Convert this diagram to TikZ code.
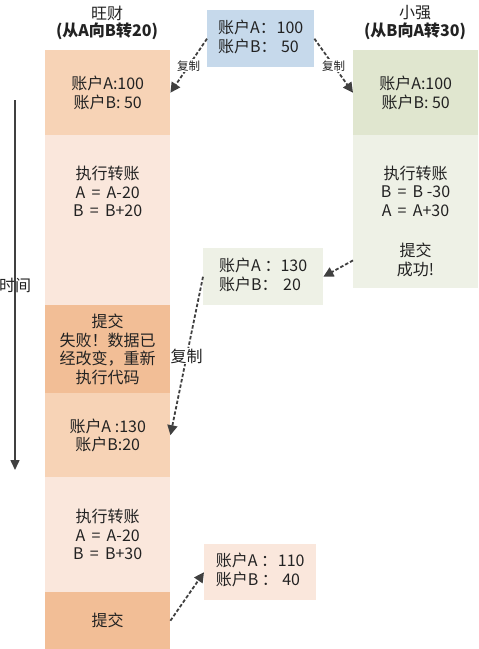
\documentclass[tikz,border=0pt]{standalone}
\usepackage{fontspec}
\setmainfont{Noto Sans CJK SC}
\usetikzlibrary{arrows.meta}
\definecolor{peach}{HTML}{F7D3B6}
\definecolor{peachlight}{HTML}{FAE7DC}
\definecolor{peachdark}{HTML}{F2BE96}
\definecolor{sage}{HTML}{E0E6CF}
\definecolor{sagelight}{HTML}{EEF1E6}
\definecolor{skyblue}{HTML}{C6D9EB}
\definecolor{arrowgray}{HTML}{404040}
\definecolor{textgray}{HTML}{222222}
\newcommand{\boxfont}{\fontsize{16}{18.5}\selectfont}
\newcommand{\smallfont}{\fontsize{11.5}{13}\selectfont}
\newcommand{\eq}{\,=\,}
\begin{document}
\begin{tikzpicture}[x=1pt,y=-1pt,
    box/.style={anchor=north west, inner sep=0pt, align=center, text=textgray, font=\boxfont},
    txt/.style={align=center, text=textgray, font=\boxfont},
    copyline/.style={draw=arrowgray, line width=1.8pt, dash pattern=on 3.5pt off 2pt, -{Triangle[length=10pt,width=10pt]}},
    copylabel/.style={fill=white, inner sep=1pt, text=textgray}]
    \useasboundingbox (0,0) rectangle (479,649);
    % titles
    \node[txt] (wname) at (107,13) {旺财};
    \node[txt, font=\boxfont\bfseries] (wtask) at (107,31) {(从A向B转20)};
    \node[txt] (xname) at (415,13) {小强};
    \node[txt, font=\boxfont\bfseries] (xtask) at (415,31) {(从B向A转30)};
    % shared data
    \node[box, fill=skyblue, minimum width=107pt, minimum height=57pt] (acct) at (207,10)
        {\begin{tabular}{@{}l@{}c@{}}账户A：&100\\账户B：&50\end{tabular}};
    % left column (travel 1)
    \node[box, fill=peach, minimum width=125pt, minimum height=85pt] (w1) at (45,50) {账户A:100\\账户B: 50};
    \node[box, fill=peachlight, minimum width=125pt, minimum height=113pt] (w2) at (45,135) {执行转账\\A \eq{} A-20\\B \eq{} B+20};
    \node[box, fill=peachlight, minimum width=125pt, minimum height=57pt] (w3) at (45,248) {};
    \node[box, fill=peachdark, minimum width=125pt, minimum height=88pt] (w4) at (45,305) {提交\\失败！数据已\\经改变，重新\\执行代码};
    \node[box, fill=peach, minimum width=125pt, minimum height=84pt] (w5) at (45,393) {账户A :130\\账户B:20};
    \node[box, fill=peachlight, minimum width=125pt, minimum height=115pt] (w6) at (45,477) {执行转账\\A \eq{} A-20\\B \eq{} B+30};
    \node[box, fill=peachdark, minimum width=125pt, minimum height=57pt] (w7) at (45,592) {提交};
    % right column
    \node[box, fill=sage, minimum width=125pt, minimum height=85pt] (x1) at (353,50) {账户A:100\\账户B: 50};
    \node[box, fill=sagelight, minimum width=125pt, minimum height=153pt] (x2) at (353,135) {};
    \node[txt] (x2ops) at (415.5,191) {执行转账\\B \eq{} B -30\\A \eq{} A+30};
    \node[txt] (x2ok) at (415.5,260) {提交\\成功!};
    % copies
    \node[box, fill=sagelight, minimum width=120pt, minimum height=57pt] (mid) at (203,248)
        {\begin{tabular}{@{}l@{}l@{}}账户A ：&130\\账户B：&\,20\end{tabular}};
    \node[box, fill=peachlight, minimum width=112pt, minimum height=56pt] (bot) at (204,544)
        {\begin{tabular}{@{}l@{}c@{}}账户A ：&110\\账户B ：&40\end{tabular}};
    % time axis
    \coordinate (tstart) at (15,100);
    \coordinate (tend) at (15,470);
    \draw[draw=arrowgray, line width=1.5pt, -{Triangle[length=10pt,width=9pt]}] (tstart) -- (tend);
    \node[txt] (tlabel) at (15,285) {时间};
    % arrows
    \draw[copyline] (acct.west) -- (w1.east) node[pos=.5, copylabel, font=\smallfont] (cpl) {复制};
    \draw[copyline] (acct.east) -- (x1.west) node[pos=.5, copylabel, font=\smallfont] (cpr) {复制};
    \draw[copyline] ([yshift=28pt]x2.south west) -- (mid.east);
    \draw[copyline] (mid.west) -- (w5.east) node[pos=.5, copylabel, font=\boxfont] (cpm) {复制};
    \draw[copyline] (w7.east) -- (bot.west);
\end{tikzpicture}
\end{document}
